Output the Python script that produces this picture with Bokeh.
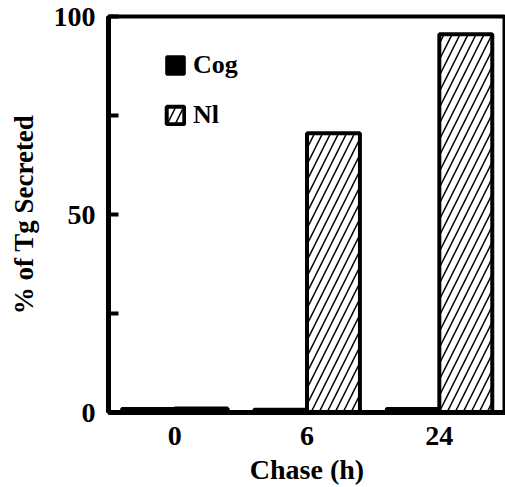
from bokeh.plotting import figure
from bokeh.models import FixedTicker, Legend, LegendItem
from bokeh.transform import dodge
from bokeh.embed import file_html
from bokeh.resources import INLINE

chase = ["0", "6", "24"]
cog = [1.0, 0.8, 1.0]
nl = [1.0, 70.5, 95.5]

FONT = "Liberation Serif"

p = figure(x_range=chase, y_range=(0, 100), width=505, height=487,
           output_backend="svg", toolbar_location=None,
           min_border_left=108, min_border_right=0, min_border_top=16, min_border_bottom=73)

src = dict(chase=chase, cog=cog, nl=nl)
r1 = p.vbar(x=dodge("chase", -0.2, range=p.x_range), top="cog", width=0.4, source=src,
            fill_color="black", line_color="black", line_width=3)
r2 = p.vbar(x=dodge("chase", 0.2, range=p.x_range), top="nl", width=0.4, source=src,
            fill_color="white", line_color="black", line_width=4,
            hatch_pattern="/", hatch_color="black", hatch_scale=16, hatch_weight=1.5)

p.x_range.range_padding = 0
p.xgrid.visible = False
p.ygrid.visible = False
p.outline_line_color = "black"
p.outline_line_width = 4

p.yaxis.ticker = FixedTicker(ticks=[0, 25, 50, 75, 100])
p.yaxis.major_label_overrides = {25: "", 75: ""}
p.yaxis.major_tick_in = 10
p.yaxis.major_tick_out = 0
p.yaxis.major_tick_line_width = 4
p.yaxis.minor_tick_line_color = None
p.yaxis.axis_line_width = 5
p.yaxis.axis_label = "% of Tg Secreted"

p.xaxis.axis_line_width = 5
p.xaxis.major_tick_line_color = None
p.xaxis.axis_label = "Chase (h)"

for ax in (p.xaxis, p.yaxis):
    ax.major_label_text_font = FONT
    ax.major_label_text_font_style = "bold"
    ax.major_label_text_font_size = "28px"
    ax.major_label_text_color = "black"
    ax.axis_label_text_font = FONT
    ax.axis_label_text_font_style = "bold"
    ax.axis_label_text_font_size = "28px"
    ax.axis_label_text_color = "black"
    ax.axis_line_color = "black"
p.yaxis.axis_label_text_font_size = "27px"
p.yaxis.major_label_standoff = 13
p.yaxis.axis_label_standoff = 12
p.xaxis.major_label_standoff = 8
p.xaxis.axis_label_standoff = 6

legend = Legend(items=[LegendItem(label="Cog", renderers=[r1]),
                       LegendItem(label="Nl", renderers=[r2])],
                location=(56, 282), glyph_width=22, glyph_height=22,
                label_text_font=FONT, label_text_font_style="bold",
                label_text_font_size="26px", label_text_color="black",
                spacing=20, label_standoff=7,
                border_line_color=None, background_fill_alpha=0,
                padding=0, margin=0)
p.add_layout(legend, "center")

open("out.html", "w").write(file_html(p, INLINE))
